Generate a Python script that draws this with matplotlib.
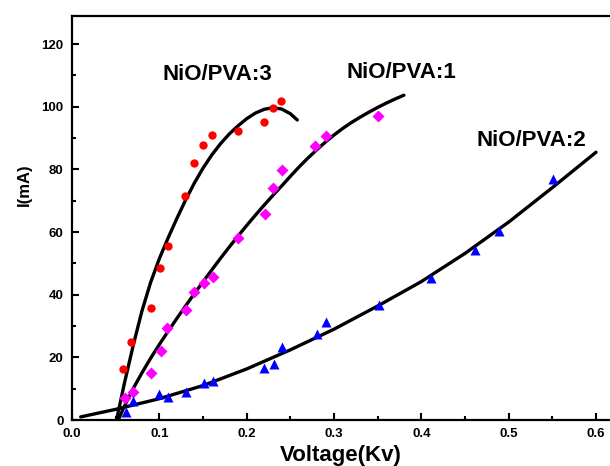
import matplotlib
matplotlib.use("Agg")
import matplotlib.pyplot as plt
from matplotlib.ticker import MultipleLocator

plt.rcParams['font.family'] = ['Liberation Sans', 'DejaVu Sans']
plt.rcParams['font.weight'] = 'bold'

# measured points
v3 = [0.058, 0.068, 0.090, 0.101, 0.110, 0.129, 0.140, 0.150, 0.160, 0.190, 0.220, 0.230, 0.239]
i3 = [16.3, 24.8, 35.9, 48.4, 55.6, 71.5, 81.9, 87.7, 90.9, 92.3, 95.3, 99.5, 101.8]

v1 = [0.061, 0.070, 0.091, 0.102, 0.109, 0.131, 0.140, 0.151, 0.162, 0.190, 0.221, 0.230, 0.241,
      0.278, 0.291, 0.350]
i1 = [6.9, 9.0, 15.1, 22.1, 29.3, 35.1, 40.9, 43.6, 45.7, 58.1, 65.9, 74.1, 79.7, 87.4, 90.6, 97.0]

v2 = [0.062, 0.070, 0.100, 0.110, 0.131, 0.151, 0.161, 0.220, 0.231, 0.241, 0.280, 0.291, 0.351,
      0.411, 0.461, 0.489, 0.551]
i2 = [2.6, 6.2, 8.3, 7.4, 9.0, 11.9, 12.5, 16.5, 17.9, 23.4, 27.4, 31.2, 36.7, 45.2, 54.2, 60.4, 76.8]

# fitted curves
fit3_v = [0.051, 0.06, 0.07, 0.08, 0.09, 0.10, 0.11, 0.12, 0.13, 0.14, 0.15, 0.16, 0.17, 0.18,
          0.19, 0.20, 0.21, 0.22, 0.23, 0.24, 0.25, 0.258]
fit3_i = [0, 11.7, 23.7, 34.7, 43.9, 51.5, 58.1, 64.3, 70.2, 75.6, 80.4, 84.6, 88.2, 91.3,
          93.9, 96.2, 98.0, 99.2, 99.7, 99.3, 97.8, 95.8]

fit1_v = [0.053, 0.06, 0.07, 0.08, 0.09, 0.10, 0.11, 0.12, 0.13, 0.14, 0.15, 0.16, 0.17, 0.18,
          0.19, 0.20, 0.21, 0.22, 0.23, 0.24, 0.25, 0.26, 0.27, 0.28, 0.29, 0.30, 0.31, 0.32,
          0.33, 0.34, 0.35, 0.36, 0.37, 0.38]
fit1_i = [0, 4.4, 10.0, 15.0, 19.7, 24.1, 28.3, 32.4, 36.4, 40.3, 44.1, 47.9, 51.6, 55.2,
          58.7, 62.1, 65.4, 68.6, 71.7, 74.7, 77.8, 80.8, 83.6, 86.2, 88.7, 91.0, 93.1, 95.0,
          96.7, 98.3, 99.8, 101.2, 102.5, 103.7]

fit2_v = [0.01, 0.05, 0.10, 0.15, 0.20, 0.25, 0.30, 0.35, 0.40, 0.45, 0.50, 0.55, 0.60]
fit2_i = [1.0, 3.4, 6.8, 11.0, 16.3, 22.4, 29.0, 36.4, 44.2, 53.2, 63.2, 74.2, 85.5]

labels = ["NiO/PVA:3", "NiO/PVA:1", "NiO/PVA:2"]
label_pos = [(0.167, 110.2), (0.377, 111.0), (0.526, 89.3)]

fig = plt.figure(figsize=(6.1, 4.66), dpi=100)
ax = fig.add_axes([0.118, 0.0987, 0.882, 0.867])

for fv, fi in [(fit3_v, fit3_i), (fit1_v, fit1_i), (fit2_v, fit2_i)]:
    ax.plot(fv, fi, color='black', lw=2.4, solid_capstyle='round',
            solid_joinstyle='round', zorder=2)

ax.plot(v3, i3, 'o', color='#ff0000', ms=6, mec='none', zorder=3)
ax.plot(v1, i1, 'D', color='#ff00ff', ms=6, mec='none', zorder=3)
ax.plot(v2, i2, '^', color='#0000ff', ms=7, mec='none', zorder=3)

for txt, (x, y) in zip(labels, label_pos):
    ax.text(x, y, txt, fontsize=16, fontweight='bold', ha='center', va='center')

ax.set_xlim(0, 0.616)
ax.set_ylim(0, 129)
ax.xaxis.set_major_locator(MultipleLocator(0.1))
ax.xaxis.set_minor_locator(MultipleLocator(0.05))
ax.yaxis.set_major_locator(MultipleLocator(20))
ax.yaxis.set_minor_locator(MultipleLocator(10))
ax.xaxis.set_major_formatter(plt.FuncFormatter(lambda v, p: "%.1f" % v))

ax.spines['right'].set_visible(False)
for s in ['left', 'bottom', 'top']:
    ax.spines[s].set_linewidth(1.6)
ax.tick_params(which='both', direction='in', width=1.5, labelsize=9.5, pad=6)
ax.tick_params(which='major', length=5)
ax.tick_params(which='minor', length=3)
ax.tick_params(top=False, right=False)
for lab in ax.get_xticklabels() + ax.get_yticklabels():
    lab.set_fontweight('bold')

ax.set_xlabel("Voltage(Kv)", fontsize=16, fontweight='bold')
ax.xaxis.label.set_va('center')
ax.xaxis.set_label_coords(0.5, -0.087)
ax.set_ylabel("I(mA)", fontsize=12, fontweight='bold')
ax.yaxis.label.set_va('center')
ax.yaxis.set_label_coords(-0.088, 0.582)

fig.savefig("out.png", dpi=100)
